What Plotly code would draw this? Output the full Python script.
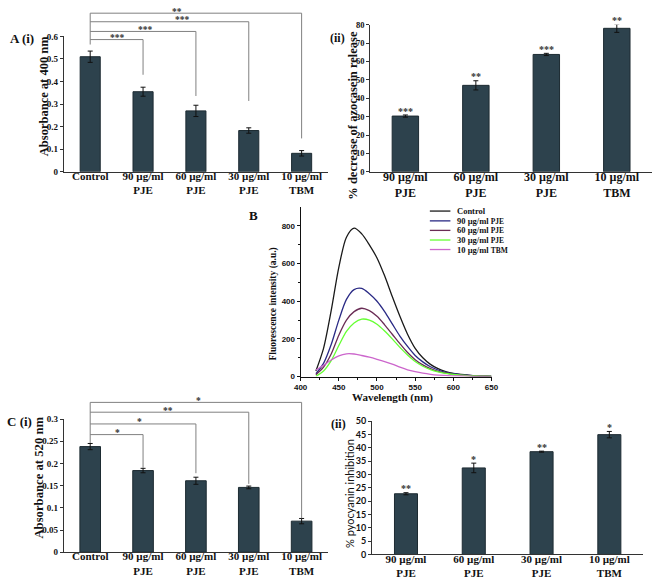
import plotly.graph_objects as go

W, H = 661, 584

# ---------------- DATA ----------------
# Panel A(i): absorbance at 400 nm
a1_cats = ["Control", "90 µg/ml<br>PJE", "60 µg/ml<br>PJE", "30 µg/ml<br>PJE", "10 µg/ml<br>TBM"]
a1_vals = [0.51, 0.355, 0.27, 0.183, 0.082]
a1_err = [0.025, 0.02, 0.025, 0.012, 0.012]
a1_brk_level = [0.586, 0.622, 0.665, 0.703]
a1_brk_end = [0.43, 0.336, 0.314, 0.148]
a1_brk_star = ["***", "***", "***", "**"]
a1_star_pos = [0.52, 1.04, 1.75, 1.65]
a1_ctrl_leg = 0.564

# Panel A(ii): % decrease of azocasein release
a2_cats = ["90 µg/ml<br>PJE", "60 µg/ml<br>PJE", "30 µg/ml<br>PJE", "10 µg/ml<br>TBM"]
a2_vals = [30.3, 47.0, 63.8, 78.0]
a2_err = [0.6, 2.5, 0.6, 2.2]
a2_stars = ["***", "**", "***", "**"]

# Panel B: fluorescence spectra
wavelength = [420, 430, 440, 450, 460, 470, 480, 490, 500, 510, 520, 530,
              540, 550, 560, 570, 580, 590, 600, 610, 620, 630, 640, 650]
fl_control = [30, 150, 350, 580, 740, 788, 758, 700, 630, 535, 425, 320,
              225, 150, 100, 65, 42, 27, 17, 11, 7, 4, 2, 1]
fl_90 = [15, 70, 170, 300, 410, 462, 468, 440, 400, 345, 280, 215,
         160, 112, 78, 52, 35, 23, 15, 10, 6, 4, 2, 1]
fl_60 = [10, 50, 120, 220, 300, 345, 363, 350, 320, 275, 225, 175,
         128, 90, 62, 42, 28, 19, 12, 8, 5, 3, 2, 1]
fl_30 = [2, 30, 85, 165, 240, 285, 305, 300, 278, 242, 200, 155,
         115, 80, 55, 37, 25, 17, 11, 7, 4, 3, 2, 1]
fl_10 = [35, 60, 88, 110, 121, 120, 112, 103, 92, 80, 66, 50,
         36, 26, 18, 12, 8, 6, 4, 3, 2, 1, 1, 0]
fl_names = ["Control", "90 µg/ml", "60 µg/ml", "30 µg/ml", "10 µg/ml"]
fl_suffix = ["", "PJE", "PJE", "PJE", "TBM"]
fl_colors = ["#1a1a1a", "#2a2a85", "#6a2c55", "#66ff33", "#cc66cc"]

# Panel C(i): absorbance at 520 nm
c1_cats = ["Control", "90 µg/ml<br>PJE", "60 µg/ml<br>PJE", "30 µg/ml<br>PJE", "10 µg/ml<br>TBM"]
c1_vals = [0.238, 0.184, 0.161, 0.146, 0.070]
c1_err = [0.007, 0.005, 0.008, 0.003, 0.006]
c1_brk_level = [0.265, 0.289, 0.3155, 0.3376]
c1_brk_end = [0.19, 0.178, 0.154, 0.0765]
c1_brk_star = ["*", "*", "**", "*"]
c1_star_pos = [0.52, 0.93, 1.48, 2.04]
c1_ctrl_leg = 0.246

# Panel C(ii): % pyocyanin inhibition
c2_cats = ["90 µg/ml<br>PJE", "60 µg/ml<br>PJE", "30 µg/ml<br>PJE", "10 µg/ml<br>TBM"]
c2_vals = [22.8, 32.5, 38.6, 45.0]
c2_err = [0.4, 1.8, 0.2, 1.2]
c2_stars = ["**", "*", "**", "*"]

# ---------------- LAYOUT HELPERS ----------------
def xd(p0, p1):
    return [p0 / W, p1 / W]

def yd(pbottom, ptop):
    return [1 - pbottom / H, 1 - ptop / H]

P = {
    "a1": dict(x=xd(58, 328), y=yd(169, 31), r=[0, 0.6]),
    "a2": dict(x=xd(371, 659), y=yd(169, 19), r=[0, 80]),
    "b": dict(x=xd(300, 495), y=yd(377.7, 205), r=[0, 900]),
    "c1": dict(x=xd(58, 328), y=yd(556.7, 421), r=[0, 0.3]),
    "c2": dict(x=xd(373, 650), y=yd(559, 423.3), r=[0, 50]),
}

def ypap(key, v):
    p = P[key]
    r0, r1 = p["r"]
    return p["y"][0] + (v - r0) / (r1 - r0) * (p["y"][1] - p["y"][0])

def xcat(key, pos, n):
    p = P[key]
    return p["x"][0] + (pos + 0.5) / n * (p["x"][1] - p["x"][0])

SERIF = "Liberation Serif"
SANS = "Liberation Sans"
BAR = "#2d424d"
BARLINE = "#1d2b32"

fig = go.Figure()
shapes = []
annos = []

def add_bars(key, xa, ya, cats, vals, err, width):
    fig.add_trace(go.Bar(
        x=cats, y=vals, xaxis=xa, yaxis=ya, width=width,
        marker=dict(color=BAR, line=dict(color=BARLINE, width=1)),
        error_y=dict(type="data", array=err, color="#111", thickness=1, width=2.5),
        cliponaxis=False, showlegend=False, hoverinfo="skip"))

add_bars("a1", "x", "y", a1_cats, a1_vals, a1_err, 0.38)
add_bars("a2", "x2", "y2", a2_cats, a2_vals, a2_err, 0.375)
add_bars("c1", "x4", "y4", c1_cats, c1_vals, c1_err, 0.39)
add_bars("c2", "x5", "y5", c2_cats, c2_vals, c2_err, 0.34)

for ys, nm, col in zip([fl_control, fl_90, fl_60, fl_30, fl_10], fl_names, fl_colors):
    fig.add_trace(go.Scatter(x=wavelength, y=ys, xaxis="x3", yaxis="y3", mode="lines",
                             line=dict(color=col, width=1.3, shape="spline", smoothing=0.8),
                             name=nm, showlegend=False, hoverinfo="skip"))

BRK = "#808080"

def line(x0, y0, x1, y1, color=BRK, width=1):
    shapes.append(dict(type="line", xref="paper", yref="paper", x0=x0, y0=y0, x1=x1, y1=y1,
                       line=dict(color=color, width=width), layer="above"))

def brackets(key, n, levels, ends, stars, star_pos, ctrl_leg):
    xc = xcat(key, 0, n)
    for k, (lv, en, st, sp) in enumerate(zip(levels, ends, stars, star_pos)):
        xt = xcat(key, k + 1, n)
        line(xc, ypap(key, lv), xt, ypap(key, lv))
        line(xt, ypap(key, lv), xt, ypap(key, en))
        annos.append(dict(xref="paper", yref="paper", x=xcat(key, sp, n),
                          y=ypap(key, lv) + 1.5 / H, text=st, showarrow=False,
                          xanchor="center", yanchor="middle",
                          font=dict(family=SERIF, size=9.5, color="#333", weight="bold")))
    line(xc, ypap(key, max(levels)), xc, ypap(key, ctrl_leg))

brackets("a1", 5, a1_brk_level, a1_brk_end, a1_brk_star, a1_star_pos, a1_ctrl_leg)
brackets("c1", 5, c1_brk_level, c1_brk_end, c1_brk_star, c1_star_pos, c1_ctrl_leg)

def top_stars(key, vals, err, stars, n):
    for i, (v, e, s) in enumerate(zip(vals, err, stars)):
        annos.append(dict(xref="paper", yref="paper", x=xcat(key, i, n),
                          y=ypap(key, v + e) + 4 / H, text=s, showarrow=False,
                          xanchor="center", yanchor="middle",
                          font=dict(family=SERIF, size=10, color="#333", weight="bold")))

top_stars("a2", a2_vals, a2_err, a2_stars, 4)
top_stars("c2", c2_vals, c2_err, c2_stars, 4)

# manual legend for panel B
leg_rows = [209, 219, 228.7, 238.5, 248.2]
for nm, suf, col, ry in zip(fl_names, fl_suffix, fl_colors, leg_rows):
    line(432 / W, 1 - ry / H, 453 / W, 1 - ry / H, color=col, width=1.3)
    txt = nm if not suf else nm + " <span style='font-size:7.5px'>" + suf + "</span>"
    annos.append(dict(xref="paper", yref="paper", x=458 / W, y=1 - ry / H, text=txt,
                      showarrow=False, xanchor="left", yanchor="middle",
                      font=dict(family=SERIF, size=8.5, color="#111", weight="bold")))

def label(px, py, text, size, family=SERIF, angle=0, weight="bold"):
    annos.append(dict(xref="paper", yref="paper", x=px / W, y=1 - py / H, text=text,
                      showarrow=False, xanchor="center", yanchor="middle", textangle=angle,
                      font=dict(family=family, size=size, color="#111", weight=weight)))

# axis titles
label(37.7, 92, "Absorbance at 400 nm", 12.5, angle=-90)
label(353.3, 111, "% decrease of azocasein release", 12.5, angle=-90)
label(272.7, 303.3, "Fluorescence intensity (a.u.)", 9.5, angle=-90)
label(393.7, 399.5, "Wavelength (nm)", 11)
label(32.3, 481, "Absorbance at 520 nm", 12.7, angle=-90)
label(350, 496.7, "% pyocyanin inhibition", 11, family="Lato", angle=-90, weight="normal")

# panel labels
label(15, 33, "A (i)", 13)
label(338, 33, "(ii)", 12)
label(252, 214, "B", 13)
label(13, 423, "C (i)", 13)
label(339, 426, "(ii)", 12)

def cat_x(key, size):
    return dict(domain=P[key]["x"], type="category", showline=True, linecolor="#333",
                linewidth=1, ticks="", ticklabelstandoff=-6,
                tickfont=dict(family=SERIF, size=size, color="#111", weight="bold"),
                showgrid=False, zeroline=False, fixedrange=True)

def val_y(key, xa, tickvals, ticktext, family=SERIF, size=9):
    return dict(domain=P[key]["y"], anchor=xa, range=P[key]["r"], showline=True,
                linecolor="#333", linewidth=1, ticks="outside", ticklen=3, tickcolor="#333",
                tickvals=tickvals, ticktext=ticktext,
                tickfont=dict(family=family, size=size, color="#111", weight="bold"),
                showgrid=False, zeroline=False, fixedrange=True)

a1_ticks = [0, 0.1, 0.2, 0.3, 0.4, 0.5, 0.6]
a1_ticktext = ["0", "0.1", "0.2", "0.3", "0.4", "0.5", "0.6"]
a2_ticks = list(range(0, 81, 10))
b_xticks = list(range(400, 651, 50))
b_yticks = list(range(0, 801, 200))
c1_ticks = [0, 0.05, 0.1, 0.15, 0.2, 0.25, 0.3]
c1_ticktext = ["0", "0.05", "0.1", "0.15", "0.2", "0.25", "0.3"]
c2_ticks = list(range(0, 51, 5))

fig.update_layout(
    width=W, height=H, autosize=False,
    margin=dict(l=0, r=0, t=0, b=0),
    paper_bgcolor="white", plot_bgcolor="rgba(0,0,0,0)",
    bargap=0.6,
    xaxis=dict(cat_x("a1", 11), anchor="y"),
    yaxis=val_y("a1", "x", a1_ticks, a1_ticktext),
    xaxis2=dict(cat_x("a2", 12), anchor="y2"),
    yaxis2=val_y("a2", "x2", a2_ticks, [str(t) for t in a2_ticks], size=8.5),
    xaxis3=dict(domain=P["b"]["x"], anchor="y3", range=[400, 650], showline=True,
                linecolor="#111", linewidth=1, ticks="outside", ticklen=3, tickcolor="#111",
                tickvals=b_xticks, tickfont=dict(family=SANS, size=8, color="#111", weight="bold"),
                minor=dict(tickvals=list(range(425, 650, 50)), ticks="outside", ticklen=2, tickcolor="#111"),
                showgrid=False, zeroline=False, fixedrange=True),
    yaxis3=dict(domain=P["b"]["y"], anchor="x3", range=P["b"]["r"], showline=True,
                linecolor="#111", linewidth=1, ticks="outside", ticklen=3, tickcolor="#111",
                tickvals=b_yticks, tickfont=dict(family=SANS, size=8, color="#111", weight="bold"),
                minor=dict(tickvals=list(range(100, 900, 200)), ticks="outside", ticklen=2, tickcolor="#111"),
                showgrid=False, zeroline=False, fixedrange=True),
    xaxis4=dict(cat_x("c1", 11), anchor="y4"),
    yaxis4=val_y("c1", "x4", c1_ticks, c1_ticktext),
    xaxis5=dict(cat_x("c2", 11), anchor="y5"),
    yaxis5=val_y("c2", "x5", c2_ticks, [str(t) for t in c2_ticks], family="Lato", size=9),
    shapes=shapes,
    annotations=annos,
)

fig.write_html("out.html", config={"displayModeBar": False},
               post_script="document.body.style.margin='0px';")
